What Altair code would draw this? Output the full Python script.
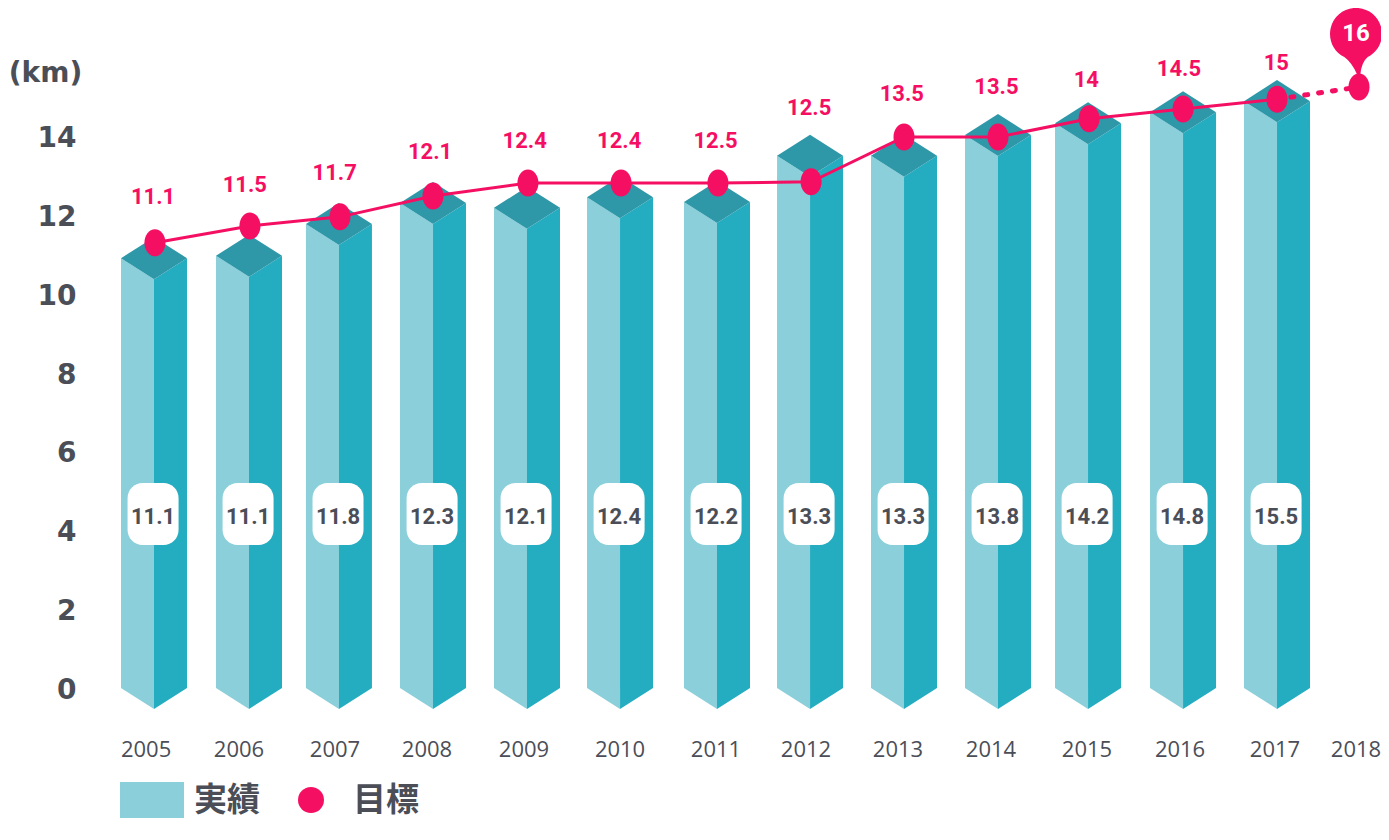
import altair as alt
import pandas as pd

# Category labels and series
years = [2005, 2006, 2007, 2008, 2009, 2010, 2011, 2012, 2013, 2014, 2015, 2016, 2017]
bar_x = [2005.0, 2006.015, 2006.976, 2007.981, 2008.985, 2009.979, 2011.015, 2012.009,
         2013.013, 2014.017, 2014.979, 2015.994, 2016.998]
bar_height = [10.92, 10.98, 11.79, 12.32, 12.2, 12.47, 12.35, 13.52, 13.52, 14.05, 14.35, 14.63, 14.91]
actual_labels = ["11.1", "11.1", "11.8", "12.3", "12.1", "12.4", "12.2", "13.3", "13.3", "13.8", "14.2", "14.8", "15.5"]

target_x = [2005.01, 2006.025, 2006.987, 2007.981, 2008.995, 2009.99, 2011.025, 2012.02,
            2013.013, 2014.017, 2014.99, 2015.994, 2016.998, 2017.874]
target_y = [11.31, 11.74, 11.97, 12.5, 12.83, 12.83, 12.83, 12.86, 14.0, 14.0, 14.46, 14.71, 14.96, 15.27]

target_labels = ["11.1", "11.5", "11.7", "12.1", "12.4", "12.4", "12.5", "12.5", "13.5", "13.5", "14", "14.5", "15"]
target_label_x = [2004.99, 2005.97, 2006.93, 2007.95, 2008.96, 2009.97, 2011.0, 2012.0, 2012.99, 2014.0,
                  2014.96, 2015.95, 2016.99]
target_label_y = [12.47, 12.77, 13.08, 13.61, 13.89, 13.89, 13.89, 14.73, 15.09, 15.26, 15.44, 15.72, 15.87]

year_labels = ["2005", "2006", "2007", "2008", "2009", "2010", "2011", "2012", "2013", "2014", "2015", "2016", "2017", "2018"]
year_label_x = [2004.915, 2005.908, 2006.934, 2007.917, 2008.953, 2009.979, 2011.004, 2011.966,
                2012.949, 2013.942, 2014.968, 2015.962, 2016.976, 2017.842]
y_ticks = [0, 2, 4, 6, 8, 10, 12, 14]

HALF = 0.3526     # half bar width, in year units
DEPTH = 0.534     # isometric depth, in km units
BOX_Y = 4.42
YEAR_LABEL_Y = -1.55

PINK = "#f50f63"
LIGHT = "#8acfd9"
DARK = "#24adc0"
TOP = "#2e98a9"
INK = "#4b4e57"

W, H = 1373, 824
PX_X, PX_Y = 93.6, 39.36
x_scale = alt.Scale(domain=[2005 + (8 - 154) / PX_X, 2005 + (8 + W - 154) / PX_X], nice=False, zero=False)
y_scale = alt.Scale(domain=[(688 - 8 - H) / PX_Y, (688 - 8) / PX_Y], nice=False, zero=False)
X = alt.X("x:Q", scale=x_scale, axis=None)
Y = alt.Y("y:Q", scale=y_scale, axis=None)

rows = []
for i, (c, v) in enumerate(zip(bar_x, bar_height)):
    rows += [
        dict(bar=i, x=c - HALF, y=v, y2=0),
        dict(bar=i, x=c, y=v - DEPTH, y2=-DEPTH),
    ]
left_df = pd.DataFrame(rows)
rows = []
for i, (c, v) in enumerate(zip(bar_x, bar_height)):
    rows += [
        dict(bar=i, x=c, y=v - DEPTH, y2=-DEPTH),
        dict(bar=i, x=c + HALF, y=v, y2=0),
    ]
right_df = pd.DataFrame(rows)
rows = []
for i, (c, v) in enumerate(zip(bar_x, bar_height)):
    rows += [
        dict(bar=i, x=c - HALF, y=v, y2=v),
        dict(bar=i, x=c, y=v + DEPTH, y2=v - DEPTH),
        dict(bar=i, x=c + HALF, y=v, y2=v),
    ]
top_df = pd.DataFrame(rows)


def face(df, color):
    return alt.Chart(df).mark_area(color=color, opacity=1, interpolate="linear").encode(
        x=X, y=Y, y2="y2:Q", detail="bar:N"
    )


target_df = pd.DataFrame({"x": target_x, "y": target_y})
solid_line = alt.Chart(target_df.iloc[:13]).mark_line(color=PINK, strokeWidth=3).encode(x=X, y=Y)
dotted_line = alt.Chart(target_df.iloc[12:]).mark_line(
    color=PINK, strokeWidth=5, strokeDash=[3, 11], strokeCap="round"
).encode(x=X, y=Y)

ELLIPSE = ("M0,-1 C0.43,-1 0.78,-0.55 0.78,0 C0.78,0.55 0.43,1 0,1 "
           "C-0.43,1 -0.78,0.55 -0.78,0 C-0.78,-0.55 -0.43,-1 0,-1 Z")
points = alt.Chart(target_df).mark_point(
    shape=ELLIPSE, filled=True, color=PINK, opacity=1, size=729
).encode(x=X, y=Y)

PIN = ("M-0.45,0.89 A1,1 0 1 1 0.45,0.89 Q0.2,1.1 0.16,1.6 L0.06,1.6 Q-0.15,1.1 -0.45,0.89 Z")
last = target_df.iloc[[13]]
pin = alt.Chart(last).mark_point(
    shape=PIN, filled=True, color=PINK, opacity=1, size=2704, yOffset=-53, xOffset=-3
).encode(x=X, y=Y)
pin_text = alt.Chart(last.assign(t="16")).mark_text(
    font="Roboto", fontWeight="bold", fontSize=24, color="white", yOffset=-53, xOffset=-3, baseline="middle"
).encode(x=X, y=Y, text="t:N")

label_df = pd.DataFrame({"x": target_label_x, "y": target_label_y, "t": target_labels})
target_text = alt.Chart(label_df).mark_text(
    font="Roboto", fontWeight="bold", fontSize=22, color=PINK, baseline="middle"
).encode(x=X, y=Y, text="t:N")

box_df = pd.DataFrame({"x": [c - 0.01 for c in bar_x], "y": [BOX_Y] * len(bar_x), "t": actual_labels})
boxes = alt.Chart(box_df).mark_rect(width=51, height=62, cornerRadius=15, color="white", opacity=1).encode(x=X, y=Y)
box_text = alt.Chart(box_df).mark_text(
    font="Roboto", fontWeight="bold", fontSize=22, color=INK, baseline="middle", dy=3
).encode(x=X, y=Y, text="t:N")

year_df = pd.DataFrame({"x": year_label_x, "y": [YEAR_LABEL_Y] * len(year_labels), "t": year_labels})
year_text = alt.Chart(year_df).mark_text(
    font="Open Sans", fontSize=22, fontWeight=400, color=INK, baseline="middle", dy=1
).encode(x=X, y=Y, text="t:N")

# Value axis drawn inside the plot, with the unit as its title
axis_df = pd.DataFrame({"x": [target_x[0]], "y": [0]})
y_axis = alt.Chart(axis_df).mark_point(opacity=0).encode(
    x=X,
    y=alt.Y(
        "y:Q", scale=y_scale,
        axis=alt.Axis(
            values=y_ticks, grid=False, domain=False, ticks=False, offset=-68, labelPadding=0,
            labelOffset=2,
            labelFont="DejaVu Sans", labelFontWeight="bold", labelFontSize=28, labelColor=INK,
            title="(km)", titleAngle=0, titleFont="DejaVu Sans", titleFontWeight="bold",
            titleFontSize=28, titleColor=INK, titleAlign="center", titleBaseline="middle",
            titleX=-31, titleY=65,
        ),
    ),
)

# Legend
legend_swatch = alt.Chart(axis_df).mark_rect(color=LIGHT, opacity=1).encode(
    x=alt.value(112), x2=alt.value(176), y=alt.value(774), y2=alt.value(810)
)
legend_dot = alt.Chart(axis_df).mark_point(filled=True, shape="circle", color=PINK, opacity=1, size=676).encode(
    x=alt.value(303), y=alt.value(792)
)
legend_a = alt.Chart(axis_df.assign(t="実績")).mark_text(
    font="Noto Sans CJK JP", fontWeight="bold", fontSize=33, color=INK, align="left", baseline="middle"
).encode(x=alt.value(186), y=alt.value(793), text="t:N")
legend_b = alt.Chart(axis_df.assign(t="目標")).mark_text(
    font="Noto Sans CJK JP", fontWeight="bold", fontSize=33, color=INK, align="left", baseline="middle"
).encode(x=alt.value(345), y=alt.value(793), text="t:N")

chart = alt.layer(
    y_axis,
    face(left_df, LIGHT), face(right_df, DARK), face(top_df, TOP),
    boxes, box_text, solid_line, dotted_line, pin, points, pin_text, target_text,
    year_text, legend_swatch, legend_dot, legend_a, legend_b,
).resolve_axis(y="independent").properties(
    width=W, height=H, padding=0, background="white",
    autosize=alt.AutoSizeParams(type="none"),
).configure_view(stroke=None)

chart.save("out.html", embed_options={"renderer": "svg", "actions": False})
